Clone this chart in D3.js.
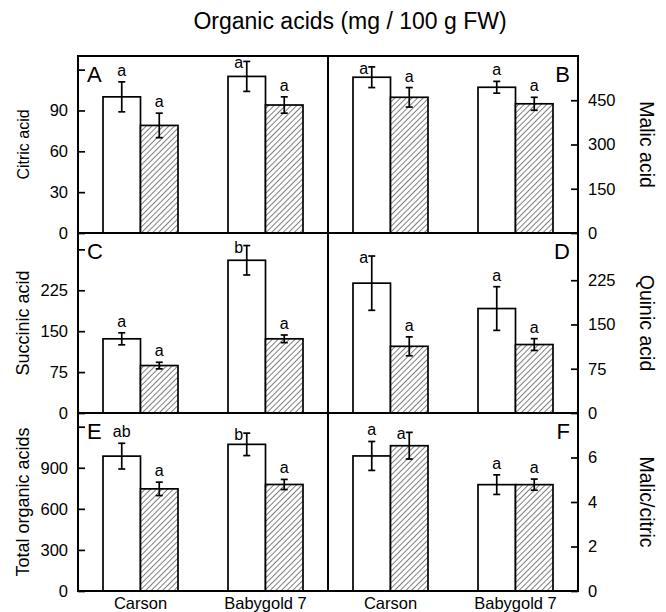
<!DOCTYPE html>
<html lang="en">
<head>
  <meta charset="UTF-8">
  <title>Organic acids</title>
  <style>
    body { margin: 0; background: #fff; }
    svg text { font-family: "Liberation Sans", Arial, Helvetica, sans-serif; fill: #000; }
  </style>
  <script src="https://d3js.org/d3.v7.min.js"></script>
  <script>
    // cultivars on the x axis; each pair is [open bar, hatched bar]
    var cultivars = ["Carson", "Babygold 7"];

    var citricMean = [[100, 79], [115, 94]];
    var citricErr = [[11, 9], [11, 6]];
    var citricLetters = [["a", "a"], ["a", "a"]];
    var citricTicks = [0, 30, 60, 90, 120];

    var malicMean = [[528, 460], [494, 438]];
    var malicErr = [[35, 33], [20, 22]];
    var malicLetters = [["a", "a"], ["a", "a"]];
    var malicTicks = [0, 150, 300, 450];

    var succinicMean = [[136, 87], [280, 136]];
    var succinicErr = [[11, 6], [27, 7]];
    var succinicLetters = [["a", "a"], ["b", "a"]];
    var succinicTicks = [0, 75, 150, 225, 300];

    var quinicMean = [[220, 113], [177, 116]];
    var quinicErr = [[46, 16], [37, 10]];
    var quinicLetters = [["a", "a"], ["a", "a"]];
    var quinicTicks = [0, 75, 150, 225];

    var totalMean = [[985, 746], [1071, 778]];
    var totalErr = [[94, 49], [82, 37]];
    var totalLetters = [["ab", "a"], ["b", "a"]];
    var totalTicks = [0, 300, 600, 900, 1200];

    var ratioMean = [[6.07, 6.53], [4.78, 4.78]];
    var ratioErr = [[0.65, 0.6], [0.44, 0.25]];
    var ratioLetters = [["a", "a"], ["a", "a"]];
    var ratioTicks = [0, 2, 4, 6];

    window.onload = function () {
      var width = 666, height = 612;
      var left = 78, mid = 328, right = 578;
      var rows = [56, 233, 413, 591];

      var panels = [
        { tag: "A", mean: citricMean, err: citricErr, letters: citricLetters, ticks: citricTicks, max: 130, col: 0, row: 0, label: "Citric acid", size: 16, shown: 90 },
        { tag: "B", mean: malicMean, err: malicErr, letters: malicLetters, ticks: malicTicks, max: 600, col: 1, row: 0, label: "Malic acid", size: 19.5, shown: 450 },
        { tag: "C", mean: succinicMean, err: succinicErr, letters: succinicLetters, ticks: succinicTicks, max: 330, col: 0, row: 1, label: "Succinic acid", size: 18, shown: 225 },
        { tag: "D", mean: quinicMean, err: quinicErr, letters: quinicLetters, ticks: quinicTicks, max: 305, col: 1, row: 1, label: "Quinic acid", size: 19.5, shown: 225 },
        { tag: "E", mean: totalMean, err: totalErr, letters: totalLetters, ticks: totalTicks, max: 1300, col: 0, row: 2, label: "Total organic acids", size: 18, shown: 900 },
        { tag: "F", mean: ratioMean, err: ratioErr, letters: ratioLetters, ticks: ratioTicks, max: 8, col: 1, row: 2, label: "Malic/citric", size: 19.5, shown: 6 }
      ];

      var svg = d3.select("body").append("svg")
        .attr("width", width)
        .attr("height", height);

      // diagonal hatching for the second bar
      var hs = 4;
      var pat = svg.append("defs").append("pattern")
        .attr("id", "hatch")
        .attr("patternUnits", "userSpaceOnUse")
        .attr("width", hs).attr("height", hs)
        .attr("patternTransform", "rotate(45)");
      pat.append("rect").attr("width", hs).attr("height", hs).attr("fill", "#fff");
      pat.append("line").attr("x1", 0).attr("y1", 0).attr("x2", 0).attr("y2", hs)
        .attr("stroke", "#000").attr("stroke-width", 1);

      svg.append("text")
        .attr("x", 350).attr("y", 29)
        .attr("text-anchor", "middle")
        .style("font-size", "23px")
        .text("Organic acids (mg / 100 g FW)");

      panels.forEach(function (p) {
        var x0 = p.col === 0 ? left : mid;
        var x1 = p.col === 0 ? mid : right;
        var y0 = rows[p.row], y1 = rows[p.row + 1];

        var x = d3.scaleBand().domain(cultivars).range([x0, x1])
          .paddingInner(0.4).paddingOuter(0.2);
        var xs = d3.scaleBand().domain([0, 1]).range([0, x.bandwidth()]);
        var y = d3.scaleLinear().domain([0, p.max]).range([y1, y0]);

        var g = svg.append("g");

        var bars = [];
        cultivars.forEach(function (c, i) {
          p.mean[i].forEach(function (v, j) {
            bars.push({ c: c, j: j, v: v, e: p.err[i][j], t: p.letters[i][j] });
          });
        });

        g.selectAll("rect.bar").data(bars).enter().append("rect")
          .attr("class", "bar")
          .attr("x", function (d) { return x(d.c) + xs(d.j); })
          .attr("y", function (d) { return y(d.v); })
          .attr("width", xs.bandwidth())
          .attr("height", function (d) { return y(0) - y(d.v); })
          .attr("fill", function (d) { return d.j === 0 ? "#fff" : "url(#hatch)"; })
          .attr("stroke", "#000")
          .attr("stroke-width", 1.7);

        var cx = function (d) { return x(d.c) + xs(d.j) + xs.bandwidth() / 2; };

        var eb = g.selectAll("g.err").data(bars).enter().append("g")
          .attr("stroke", "#000").attr("stroke-width", 1.7);
        eb.append("line")
          .attr("x1", cx).attr("x2", cx)
          .attr("y1", function (d) { return y(d.v + d.e); })
          .attr("y2", function (d) { return y(d.v - d.e); });
        [1, -1].forEach(function (s) {
          eb.append("line")
            .attr("x1", function (d) { return cx(d) - 3.5; })
            .attr("x2", function (d) { return cx(d) + 3.5; })
            .attr("y1", function (d) { return y(d.v + s * d.e); })
            .attr("y2", function (d) { return y(d.v + s * d.e); });
        });

        // letters: above the cap, or tucked beside it when the frame is too close
        g.selectAll("text.sig").data(bars).enter().append("text")
          .attr("class", "sig")
          .style("font-size", "16px")
          .attr("text-anchor", function (d) { return y(d.v + d.e) - y0 < 24 ? "end" : "middle"; })
          .attr("x", function (d) { return y(d.v + d.e) - y0 < 24 ? cx(d) - 3.5 : cx(d); })
          .attr("y", function (d) {
            var top = y(d.v + d.e);
            return top - y0 < 24 ? top + 7 : top - 6;
          })
          .text(function (d) { return d.t; });

        var axis = (p.col === 0 ? d3.axisLeft(y) : d3.axisRight(y))
          .tickValues(p.ticks)
          .tickSizeInner(-7).tickSizeOuter(0).tickPadding(10)
          .tickFormat(function (d) { return d <= p.shown ? d : ""; });

        var ax = svg.append("g")
          .attr("transform", "translate(" + (p.col === 0 ? x0 : x1) + ",0)")
          .call(axis);
        ax.select(".domain").remove();
        ax.selectAll("line").attr("stroke-width", 1.7);
        ax.selectAll("text").style("font-size", "16.5px").attr("font-family", null);

        svg.append("text")
          .attr("x", p.col === 0 ? x0 + 9 : x1 - 8)
          .attr("y", y0 + 26)
          .attr("text-anchor", p.col === 0 ? "start" : "end")
          .style("font-size", "22px")
          .text(p.tag);

        var lx = p.col === 0 ? 23 : 647;
        svg.append("text")
          .attr("transform", "translate(" + lx + "," + ((y0 + y1) / 2) + ") rotate(" + (p.col === 0 ? -90 : 90) + ")")
          .attr("text-anchor", "middle")
          .attr("dy", "0.35em")
          .style("font-size", p.size + "px")
          .text(p.label);

        if (p.row === 2) {
          svg.append("g").selectAll("text").data(cultivars).enter().append("text")
            .attr("x", function (d) { return x(d) + x.bandwidth() / 2; })
            .attr("y", 609)
            .attr("text-anchor", "middle")
            .style("font-size", "16.5px")
            .text(function (d) { return d; });
        }
      });

      // frame and panel dividers
      var frame = svg.append("g").attr("fill", "none").attr("stroke", "#000").attr("stroke-width", 2);
      frame.append("rect")
        .attr("x", left).attr("y", rows[0])
        .attr("width", right - left).attr("height", rows[3] - rows[0]);
      frame.append("line").attr("x1", mid).attr("x2", mid).attr("y1", rows[0]).attr("y2", rows[3]);
      [rows[1], rows[2]].forEach(function (r) {
        frame.append("line").attr("x1", left).attr("x2", right).attr("y1", r).attr("y2", r);
      });
    };
  </script>
</head>
<body>
</body>
</html>
